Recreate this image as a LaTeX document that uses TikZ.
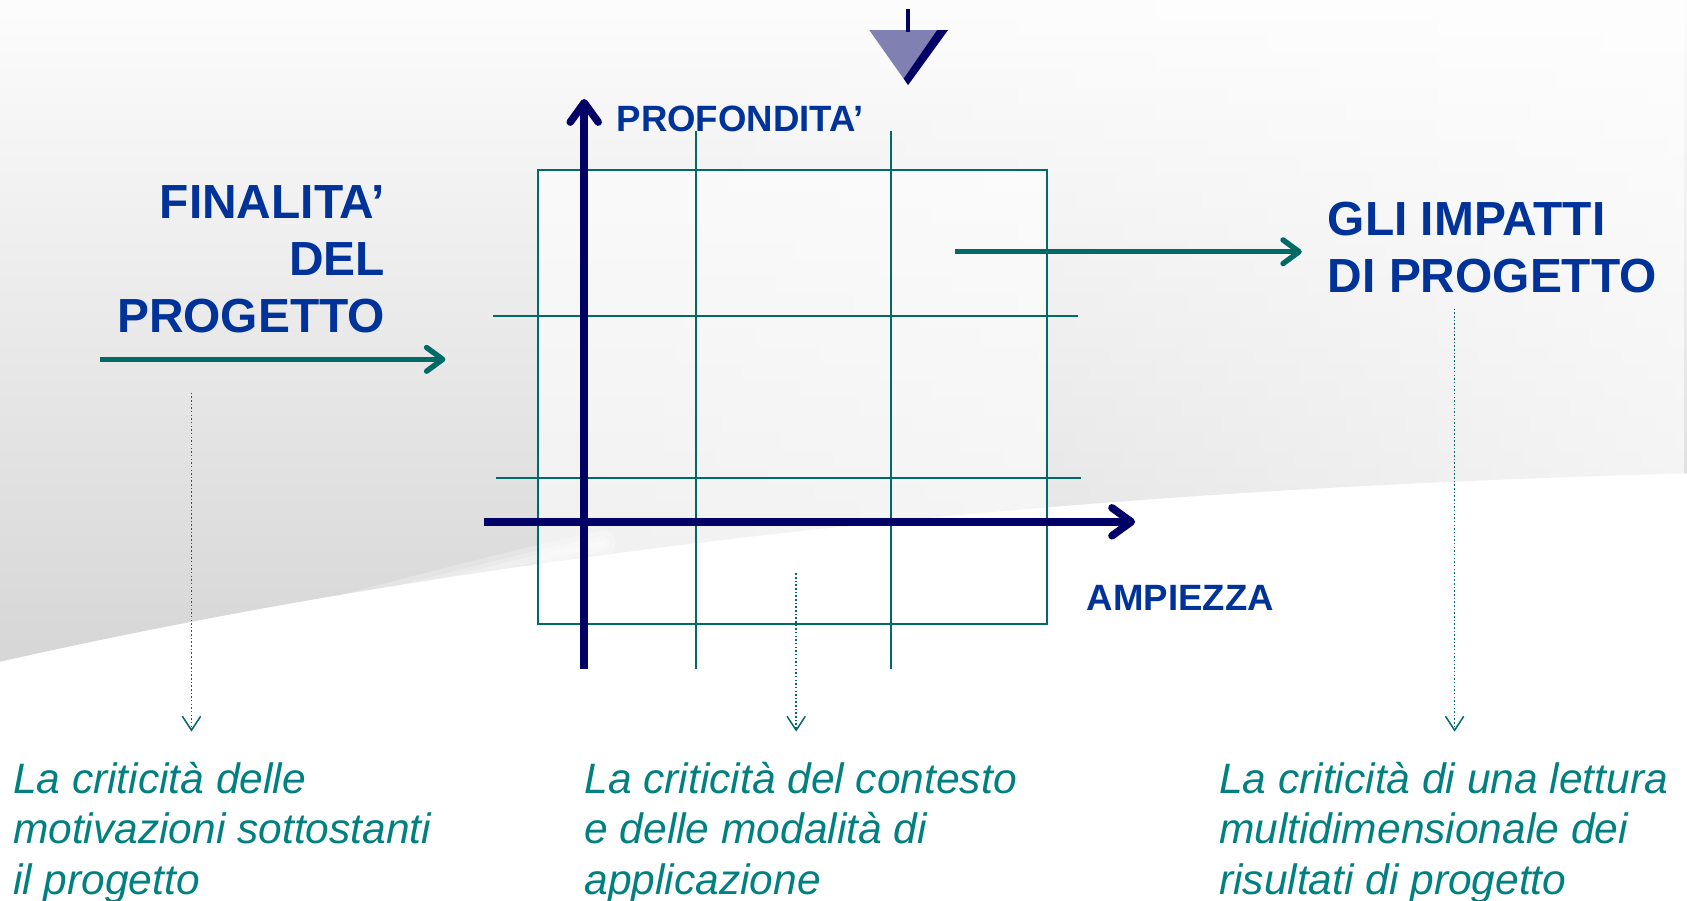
\documentclass[tikz,border=0pt]{standalone}
\usepackage{fontspec}
\setmainfont{Liberation Sans}
\usetikzlibrary{arrows.meta,fadings}

\definecolor{navyax}{RGB}{0,0,102}
\definecolor{lblblue}{RGB}{0,51,153}
\definecolor{tealln}{RGB}{0,107,102}
\definecolor{tealtx}{RGB}{0,128,128}
\definecolor{trifill}{RGB}{128,128,178}

\tikzfading[name=fadeeast, left color=transparent!100, right color=transparent!35]

\begin{document}
\begin{tikzpicture}[x=1pt, y=-1pt,
		axis/.style={navyax, line width=7pt, -{Straight Barb[length=18pt,width=26pt,round]}},
		gridln/.style={tealln, line width=1.6pt},
		flow/.style={tealln, line width=5pt, -{Straight Barb[length=15pt,width=22pt,round]}},
		hint/.style={tealln, line width=1.4pt, dash pattern=on 1.4pt off 2pt,
				-{Straight Barb[length=13pt,width=17pt]}},
		every node/.style={inner sep=0pt},
		axlbl/.style={lblblue, font=\fontsize{34}{40}\selectfont\bfseries},
		title/.style={lblblue, font=\fontsize{44.5}{53}\selectfont\bfseries},
		note/.style={tealtx, font=\fontsize{39.5}{47}\selectfont\itshape,
				align=left, anchor=north west} ]

	\useasboundingbox (0,0) rectangle (1568,837);

	% background
	\fill[white] (0,0) rectangle (1568,837);
	\shade[top color=white, middle color=black!12, bottom color=black!16]
		(0,-40) -- (1568,-40) -- (1568,440)
		.. controls (1200,450) and (600,480) .. (0,615) -- cycle;
	\fill[white, path fading=fadeeast] (560,-40) rectangle (1568,837);
	\foreach \w in {6,14,24}
		\draw[white, opacity=0.25, line width=\w pt, line cap=round]
			(0,645) .. controls (200,600) and (380,545) .. (560,505);
	\fill[white, opacity=0.6] (500,158) rectangle (973,580);

	% triangle
	\coordinate (stemtop) at (844,8);
	\coordinate (stembot) at (844,30);
	\fill[trifill] (808,28) -- (881,28) -- (844,79) -- cycle;
	\fill[navyax] (871,28) -- (881,28) -- (844,79) -- (840,73) -- cycle;
	\draw[navyax, line width=3pt] (stemtop) -- (stembot);

	% grid
	\coordinate (gA) at (647,122);
	\coordinate (gB) at (647,622);
	\coordinate (gC) at (828,122);
	\coordinate (gD) at (828,622);
	\coordinate (gE) at (458,294);
	\coordinate (gF) at (1002,294);
	\coordinate (gG) at (461,444);
	\coordinate (gH) at (1005,444);
	\draw[gridln] (500,158) rectangle (973,580);
	\draw[gridln] (gA) -- (gB);
	\draw[gridln] (gC) -- (gD);
	\draw[gridln] (gE) -- (gF);
	\draw[gridln] (gG) -- (gH);

	% axes
	\coordinate (vlow) at (543,622);
	\coordinate (vtop) at (543,92);
	\coordinate (hleft) at (450,485);
	\coordinate (hright) at (1055,485);
	\draw[axis] (vlow) -- (vtop);
	\draw[axis] (hleft) -- (hright);

	\node[axlbl, anchor=north west] (prof) at (573,98) {PROFONDITA'};
	\node[axlbl, anchor=north west] (ampi) at (1010,544) {AMPIEZZA};

	% titles
	\node[title, align=right, anchor=north east] (finalita) at (358,172)
	{FINALITA'\\DEL\\PROGETTO};
	\node[title, align=left, anchor=north west] (impatti) at (1234,188)
	{GLI IMPATTI\\DI PROGETTO};

	\coordinate (fin1) at (93,334);
	\coordinate (fin2) at (414,334);
	\coordinate (imp1) at (888,234);
	\coordinate (imp2) at (1210,234);
	\draw[flow] (fin1) -- (fin2);
	\draw[flow] (imp1) -- (imp2);

	% notes
	\node[note] (crit1) at (12,708)
	{La criticità delle\\motivazioni sottostanti\\il progetto};
	\node[note] (crit2) at (543,708)
	{La criticità del contesto\\e delle modalità di\\applicazione};
	\node[note] (crit3) at (1133,708)
	{La criticità di una lettura\\multidimensionale dei\\risultati di progetto};

	\coordinate (d1) at (178,365);
	\coordinate (d2) at (740,533);
	\coordinate (d3) at (1352,287);
	\draw[hint] (d1) -- (178,680);
	\draw[hint] (d2) -- (740,680);
	\draw[hint] (d3) -- (1352,680);
\end{tikzpicture}
\end{document}
